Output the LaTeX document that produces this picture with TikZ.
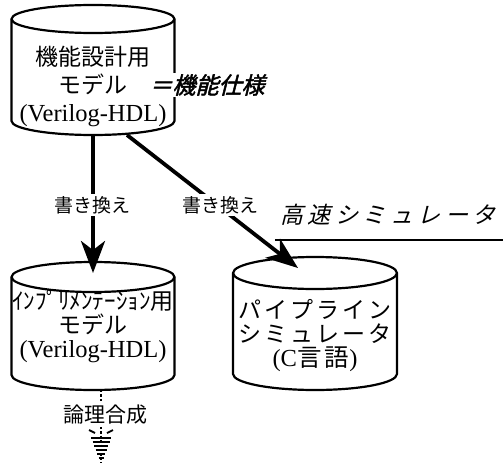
\documentclass[tikz,border=0pt]{standalone}
\usepackage{fontspec}
\setmainfont{Liberation Serif}
\newfontfamily\jp{Noto Sans CJK JP}
\newfontfamily\jpwide[LetterSpace=13]{Noto Sans CJK JP}
\newfontfamily\jpslant[FakeSlant=0.25,LetterSpace=20]{Noto Sans CJK JP}
\newfontfamily\jpspec[FakeSlant=0.25,FakeBold=2]{Noto Sans CJK JP}
\usetikzlibrary{arrows.meta}
\newcommand\cylsize{\fontsize{23}{28}\selectfont}
\newcommand\cyltight{\fontsize{23}{24}\selectfont}
\newcommand\latsize{\fontsize{24.5}{24}\selectfont}
\newcommand\labsize{\fontsize{19}{22}\selectfont}
% cylinder outline round a named box: #1 name, #2 x radius, #3 y radius
\newcommand\dbshape[3]{%
  \draw[line width=2.2pt, fill=white] ([yshift=-#3pt]#1.north west)
    arc[start angle=180, end angle=0, x radius=#2pt, y radius=#3pt]
    -- ([yshift=#3pt]#1.south east)
    arc[start angle=0, end angle=-180, x radius=#2pt, y radius=#3pt] -- cycle;
  \draw[line width=2.2pt] ([yshift=-#3pt]#1.north west)
    arc[start angle=180, end angle=360, x radius=#2pt, y radius=#3pt];}

\begin{document}
\begin{tikzpicture}[x=1pt,y=-1pt,
  dbbox/.style={inner sep=0pt, outer sep=0pt},
  conv/.style={line width=3.8pt, -{Stealth[length=32pt,width=24pt,inset=9pt]}},
  lab/.style={fill=white, inner sep=2pt, font=\labsize\jp}]
\useasboundingbox (0,0) rectangle (503,463);
% models
\node[dbbox, minimum width=163pt, minimum height=130pt] (func) at (93,70) {};
\node[dbbox, minimum width=163pt, minimum height=128pt] (impl) at (93,326) {};
\node[dbbox, minimum width=164pt, minimum height=133pt] (pipe) at (315,323.5) {};
\dbshape{func}{81.5}{14}
\dbshape{impl}{81.5}{15}
\dbshape{pipe}{82}{16}
\node[align=center, font=\cylsize] (func txt) at (93,86)
  {{\jp 機能設計用}\\{\jp モデル}\\{\latsize (Verilog-HDL)}};
\node[align=center, font=\cyltight] (impl txt) at (93,326)
  {{\jp ｲﾝﾌﾟﾘﾒﾝﾃｰｼｮﾝ用}\\{\jp モデル}\\{\latsize (Verilog-HDL)}};
\node[align=center, font=\cyltight] (pipe txt) at (315,336)
  {{\jpwide パイプライン}\\{\jpwide シミュレータ}\\{\latsize (C{\jpwide 言語})}};
\node[fill=white, inner sep=1pt, font=\cylsize\jpspec] (spec) at (207,85) {＝機能仕様};
% conversions
\draw[conv] (func.south) -- ([yshift=-11pt]impl.north);
\draw[conv] ([xshift=34pt]func.south) -- ([xshift=-17pt,yshift=-11pt]pipe.north);
\node[lab] (rw1) at (92,205) {書き換え};
\node[lab] (rw2) at (220,205) {書き換え};
\node[inner sep=1pt, font=\cylsize\jpslant] (fast) at (388,215) {高速シミュレータ};
\coordinate (fast end) at (503,240);
\draw[line width=1.8pt] ([xshift=-4pt]fast.west |- fast end) -- (fast end);
% synthesis
\node[lab, font=\fontsize{21}{24}\selectfont\jp] (synth) at (105,415) {論理合成};
\coordinate (syn top) at (101,390);
\coordinate (syn end) at (101,463);
\draw[dotted, line width=2.4pt] (syn top) -- (synth.north -| syn top);
\draw[dotted, line width=2.4pt] (synth.south -| syn top) -- (syn end);
\draw[line width=1.8pt] (89,430) -- (95,433) (107,433) -- (113,430);
\foreach \k in {0,...,5}
  \draw[line width=1.8pt] ({91+1.5*\k},{438+4*\k}) -- ({111-1.5*\k},{438+4*\k});
\end{tikzpicture}
\end{document}
